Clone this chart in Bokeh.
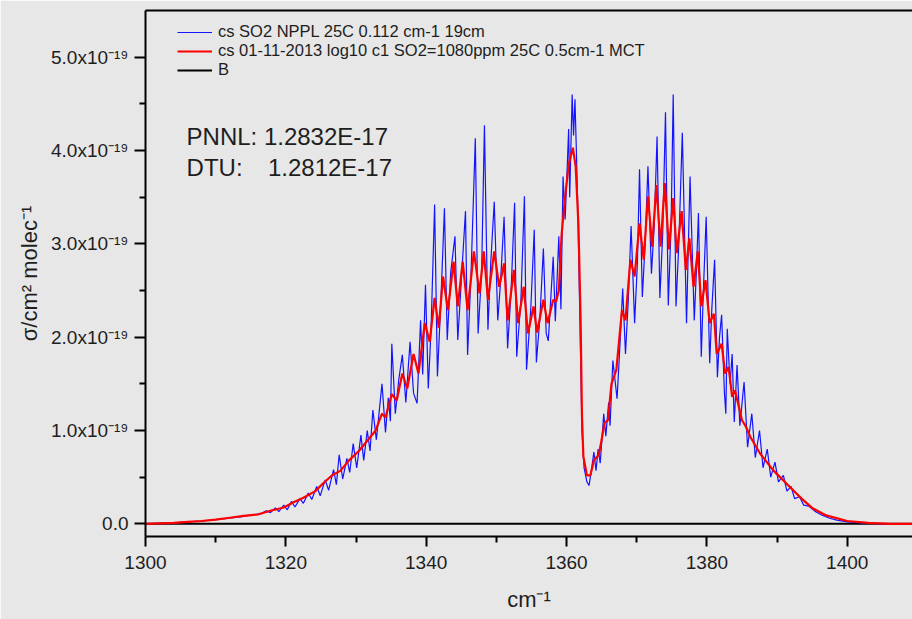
import numpy as np
from bokeh.plotting import figure
from bokeh.models import (FixedTicker, CustomJSTickFormatter, Legend, LegendItem,
                          Label, LinearAxis, Range1d)
from bokeh.embed import file_html
from bokeh.resources import INLINE

SCALE = 1e-19  # values below are in units of 1e-19 cm^2 molec^-1

# PNNL (blue) cross section, cm-1 / 1e-19
BLUE_X = [1300.0, 1302.0, 1304.0, 1306.0, 1308.0, 1310.0, 1312.0, 1314.0, 1315.5, 1316.5,
          1317.2, 1317.8, 1318.5, 1319.0, 1319.7, 1320.2, 1320.8, 1321.3, 1322.0, 1322.5,
          1323.2, 1323.7, 1324.4, 1324.9, 1325.6, 1326.1, 1326.8, 1327.2, 1327.6, 1328.1,
          1328.7, 1329.1, 1329.6, 1330.1, 1330.7, 1331.1, 1331.6, 1332.0, 1332.4, 1332.9,
          1333.7, 1334.2, 1334.6, 1334.9, 1335.1, 1335.6, 1336.1, 1336.6, 1337.1, 1337.7,
          1338.2, 1338.7, 1339.2, 1339.5, 1339.9, 1340.3, 1340.7, 1341.2, 1341.6, 1342.1,
          1342.6, 1343.0, 1343.5, 1344.1, 1344.5, 1345.0, 1345.6, 1345.9, 1346.4, 1347.0,
          1347.4, 1347.9, 1348.3, 1348.8, 1349.2, 1349.7, 1350.2, 1350.6, 1351.1, 1351.6,
          1352.1, 1352.6, 1352.9, 1353.5, 1354.0, 1354.3, 1354.9, 1355.4, 1355.7, 1356.2,
          1356.7, 1357.1, 1357.4, 1358.1, 1358.4, 1358.9, 1359.2, 1359.5, 1359.8, 1360.1,
          1360.3, 1360.45, 1360.8, 1361.0, 1361.2, 1361.4, 1361.6, 1361.8, 1362.0, 1362.2,
          1362.5, 1362.9, 1363.2, 1363.5, 1363.9, 1364.2, 1364.5, 1364.8, 1365.3, 1365.6,
          1366.0, 1366.2, 1366.6, 1367.2, 1367.6, 1368.0, 1368.4, 1368.8, 1369.2, 1369.7,
          1370.1, 1370.4, 1370.8, 1371.2, 1371.6, 1372.1, 1372.5, 1372.9, 1373.3, 1373.7,
          1374.1, 1374.5, 1374.9, 1375.2, 1375.6, 1376.0, 1376.5, 1377.1, 1377.3, 1377.6,
          1378.2, 1378.5, 1378.8, 1379.2, 1379.5, 1379.9, 1380.4, 1380.7, 1381.1, 1381.5,
          1381.8, 1382.1, 1382.5, 1382.7, 1382.9, 1383.3, 1383.6, 1383.9, 1384.3, 1384.7,
          1385.3, 1385.8, 1386.4, 1386.9, 1387.5, 1388.0, 1388.6, 1389.1, 1389.7, 1390.2,
          1390.9, 1391.4, 1392.0, 1392.5, 1393.2, 1393.8, 1394.5, 1395.5, 1396.5, 1397.5,
          1398.5, 1400.0, 1402.0, 1405.0, 1409.3]
BLUE_Y = [0.00, 0.005, 0.01, 0.02, 0.03, 0.045, 0.06, 0.08, 0.10, 0.11,
          0.14, 0.12, 0.17, 0.13, 0.20, 0.15, 0.24, 0.18, 0.27, 0.22,
          0.33, 0.26, 0.40, 0.30, 0.47, 0.36, 0.58, 0.42, 0.74, 0.48,
          0.70, 0.55, 0.86, 0.60, 0.95, 0.68, 1.00, 0.78, 1.22, 0.90,
          1.50, 0.98, 1.35, 1.10, 1.93, 1.18, 1.55, 1.81, 1.30, 1.95,
          1.40, 1.29, 2.18, 1.60, 2.56, 1.45, 2.10, 3.42, 1.58, 2.40,
          3.38, 1.97, 2.70, 3.08, 1.97, 2.60, 3.35, 1.81, 2.70, 4.13,
          2.04, 2.70, 4.27, 2.08, 2.80, 3.45, 2.18, 2.60, 3.29, 1.88,
          2.50, 3.44, 1.79, 2.40, 3.51, 1.65, 2.30, 3.15, 1.73, 2.20,
          2.95, 2.04, 1.96, 2.86, 2.17, 3.08, 2.30, 3.72, 3.26, 3.83,
          4.23, 3.50, 4.60, 4.16, 4.55, 4.00, 3.40, 2.60, 1.80, 1.00,
          0.60, 0.45, 0.41, 0.55, 0.77, 0.57, 0.80, 0.65, 1.18, 0.94,
          1.30, 1.05, 1.75, 1.34, 1.90, 2.52, 1.82, 2.40, 3.19, 2.15,
          2.80, 3.80, 2.43, 3.00, 3.83, 2.68, 3.20, 4.15, 2.42, 3.10,
          4.41, 2.34, 3.20, 4.60, 2.33, 3.00, 4.19, 2.15, 2.80, 3.72,
          2.18, 2.70, 3.33, 1.79, 2.50, 3.29, 1.72, 2.30, 2.83, 1.57,
          2.00, 2.24, 1.40, 1.18, 2.09, 1.50, 1.82, 1.09, 1.70, 1.05,
          1.52, 0.82, 1.18, 0.71, 1.00, 0.60, 0.80, 0.50, 0.66, 0.45,
          0.52, 0.35, 0.40, 0.27, 0.29, 0.20, 0.19, 0.13, 0.09, 0.06,
          0.04, 0.02, 0.01, 0.00, 0.00]

# DTU (red) cross section, cm-1 / 1e-19
RED_X = [1300.0, 1302.0, 1304.0, 1306.0, 1308.0, 1310.0, 1312.0, 1314.0, 1316.0, 1317.8,
         1319.7, 1321.1, 1322.5, 1324.2, 1325.4, 1326.6, 1327.8, 1329.0, 1330.4, 1331.6,
         1332.8, 1333.7, 1334.2, 1335.1, 1335.8, 1336.6, 1337.3, 1338.2, 1338.9, 1339.8,
         1340.5, 1341.2, 1341.8, 1342.4, 1343.1, 1343.9, 1344.5, 1345.2, 1345.9, 1346.8,
         1347.6, 1348.2, 1348.8, 1349.7, 1350.4, 1351.1, 1351.6, 1352.5, 1353.1, 1353.9,
         1354.5, 1355.3, 1355.8, 1356.7, 1357.3, 1358.1, 1358.5, 1358.9, 1359.3, 1359.8,
         1360.3, 1360.9, 1361.3, 1361.7, 1362.0, 1362.2, 1362.4, 1362.9, 1363.4, 1363.9,
         1364.6, 1365.0, 1365.4, 1365.9, 1366.4, 1367.1, 1367.9, 1368.4, 1369.1, 1369.7,
         1370.4, 1371.0, 1371.6, 1372.2, 1372.8, 1373.4, 1374.0, 1374.6, 1375.2, 1375.7,
         1376.4, 1377.0, 1377.5, 1378.1, 1378.7, 1379.2, 1379.8, 1380.4, 1381.0, 1381.4,
         1382.1, 1382.6, 1383.1, 1383.6, 1384.0, 1385.0, 1385.5, 1386.2, 1387.6, 1389.5,
         1391.9, 1393.5, 1395.0, 1397.0, 1400.0, 1403.0, 1406.0, 1409.3]
RED_Y = [0.00, 0.005, 0.01, 0.02, 0.03, 0.045, 0.065, 0.085, 0.10, 0.14,
         0.175, 0.23, 0.28, 0.35, 0.44, 0.52, 0.57, 0.68, 0.78, 0.89,
         1.00, 1.18, 1.14, 1.39, 1.32, 1.61, 1.45, 1.82, 1.61, 2.15,
         1.95, 2.42, 2.10, 2.65, 2.29, 2.81, 2.33, 2.81, 2.29, 2.92,
         2.47, 2.92, 2.40, 2.92, 2.54, 2.79, 2.18, 2.72, 2.15, 2.54,
         2.04, 2.33, 2.05, 2.40, 2.15, 2.40, 2.38, 2.50, 3.10, 3.50,
         3.85, 4.03, 3.83, 3.20, 2.20, 1.15, 0.72, 0.52, 0.52, 0.68,
         0.74, 0.90, 1.08, 1.11, 1.50, 1.65, 2.29, 2.18, 2.83, 2.65,
         3.22, 2.83, 3.51, 2.97, 3.63, 2.97, 3.65, 2.94, 3.49, 2.90,
         3.35, 2.72, 3.06, 2.54, 2.92, 2.33, 2.61, 2.15, 2.25, 1.82,
         1.93, 1.61, 1.68, 1.36, 1.43, 1.11, 1.05, 0.93, 0.75, 0.57,
         0.39, 0.27, 0.17, 0.09, 0.03, 0.01, 0.00, 0.00]

# B: zero baseline
B_X = [1300.0, 1409.3]
B_Y = [0.0, 0.0]

X_TICKS = [1300, 1320, 1340, 1360, 1380, 1400]
X_MINOR = [1310, 1330, 1350, 1370, 1390]
Y_TICKS = [0.0, 1.0, 2.0, 3.0, 4.0, 5.0]
Y_MINOR = [0.5, 1.5, 2.5, 3.5, 4.5]

BLUE_LABEL = "cs SO2 NPPL 25C 0.112 cm-1 19cm"
RED_LABEL = "cs 01-11-2013 log10 c1 SO2=1080ppm 25C 0.5cm-1 MCT"
B_LABEL = "B"

BG = "#e7e7e7"
FONT = "Liberation Sans"
TXT = "#1e1e1e"

p = figure(width=912, height=619, output_backend="svg", toolbar_location=None,
           x_range=Range1d(1300, 1409.3), y_range=Range1d(-0.136 * SCALE, 5.50 * SCALE),
           min_border_left=145, min_border_right=0, min_border_top=10, min_border_bottom=83,
           background_fill_color=BG, border_fill_color=BG, outline_line_color=None)
p.grid.visible = False

rb = p.line(B_X, np.array(B_Y) * SCALE, line_color="black", line_width=2)
bl = p.line(BLUE_X, np.array(BLUE_Y) * SCALE, line_color="#1414ff", line_width=1.2)
rd = p.line(RED_X, np.array(RED_Y) * SCALE, line_color="#ff0000", line_width=2.2)

xa = p.xaxis[0]
xa.ticker = FixedTicker(ticks=X_TICKS, minor_ticks=X_MINOR)
ya = p.yaxis[0]
ya.ticker = FixedTicker(ticks=[t * SCALE for t in Y_TICKS], minor_ticks=[t * SCALE for t in Y_MINOR])
ya.formatter = CustomJSTickFormatter(code="""
    if (Math.abs(tick) < 1e-25) { return "0.0"; }
    return (tick / 1e-19).toFixed(1) + "x10\u207B\u00B9\u2079";
""")
for ax in (xa, ya):
    ax.axis_line_width = 2
    ax.axis_line_color = "black"
    ax.major_tick_line_width = 2
    ax.minor_tick_line_width = 2
    ax.major_tick_in = 0
    ax.minor_tick_in = 0
    ax.major_tick_out = 11
    ax.minor_tick_out = 6
    ax.major_label_text_font = FONT
    ax.major_label_text_font_size = "19px"
    ax.major_label_text_color = TXT
    ax.axis_label_text_font = FONT
    ax.axis_label_text_font_size = "22px"
    ax.axis_label_text_font_style = "normal"
    ax.axis_label_text_color = TXT

xa.major_tick_out = 10
xa.axis_label = "cm\u207B\u00B9"
xa.major_label_standoff = 9
xa.axis_label_standoff = 15
ya.axis_label = "\u03C3/cm\u00B2 molec\u207B\u00B9"
ya.major_label_standoff = 6
ya.axis_label_standoff = 6

top = LinearAxis(ticker=FixedTicker(ticks=[]), major_label_text_font_size="0px",
                 major_tick_out=0, minor_tick_out=0, major_tick_in=0, minor_tick_in=0,
                 axis_line_width=2, axis_line_color="black")
p.add_layout(top, "above")

legend = Legend(items=[LegendItem(label=BLUE_LABEL, renderers=[bl]),
                       LegendItem(label=RED_LABEL, renderers=[rd]),
                       LegendItem(label=B_LABEL, renderers=[rb])],
                location=(32, 457), glyph_width=35, glyph_height=16, label_height=16,
                label_standoff=6, spacing=0, padding=5, margin=0,
                border_line_color=None, background_fill_alpha=0,
                label_text_font=FONT, label_text_font_size="16.5px", label_text_color=TXT)
p.add_layout(legend, "center")

for txt, x, y in [("PNNL: 1.2832E-17", 1305.85, 4.15), ("DTU:", 1305.85, 3.82),
                  ("1.2812E-17", 1317.45, 3.82)]:
    p.add_layout(Label(x=x, y=y * SCALE, text=txt, text_baseline="middle",
                       text_font=FONT, text_font_size="24px", text_color=TXT))

open("out.html", "w").write(file_html(p, INLINE))
